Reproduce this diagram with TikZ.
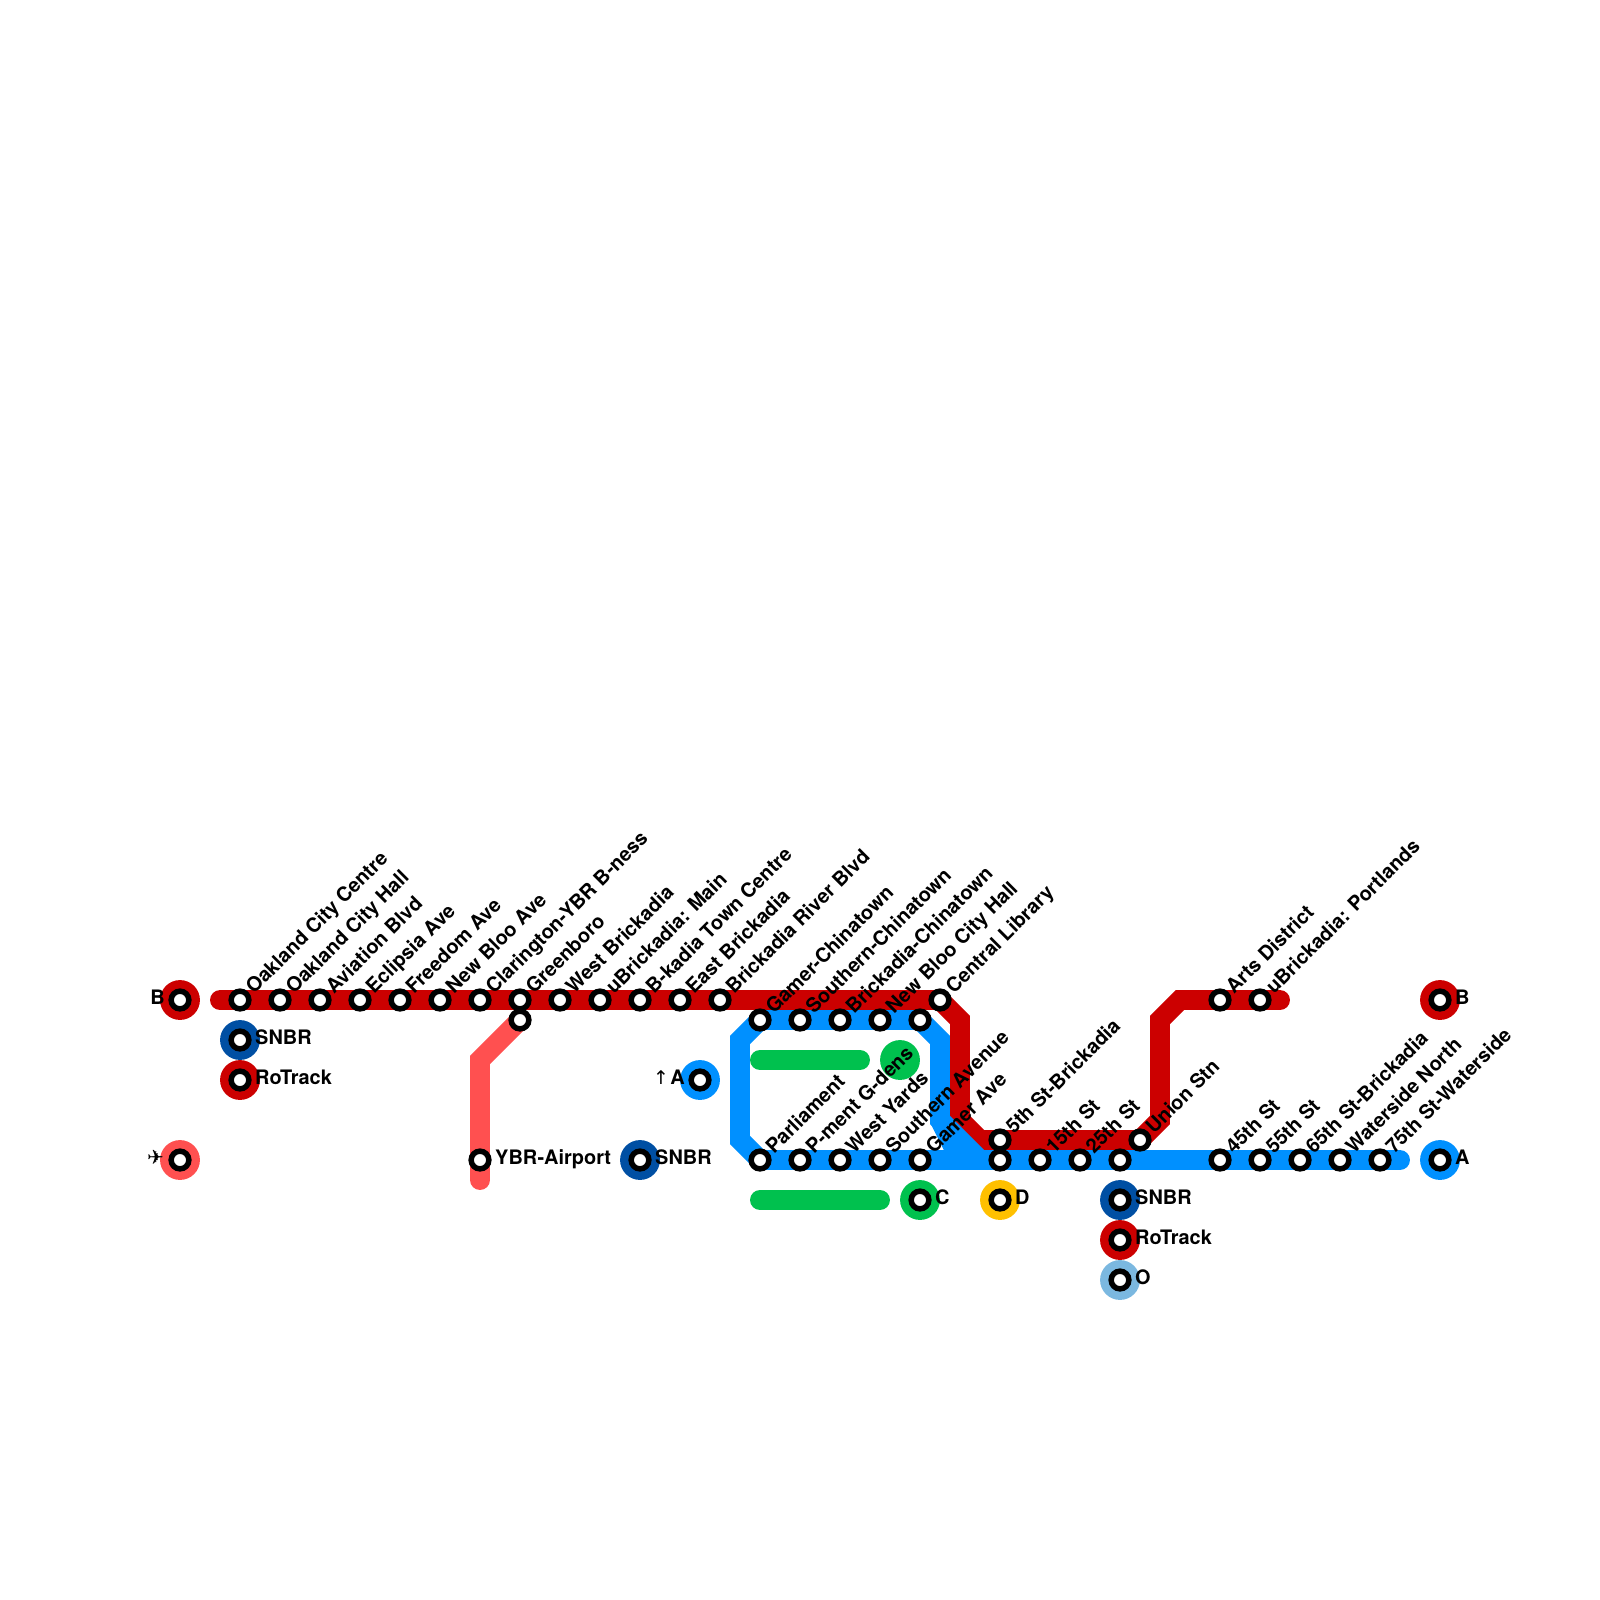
\documentclass[tikz,border=0pt]{standalone}
\usepackage{fontspec}
\setmainfont{TeX Gyre Heros}
\newfontfamily\symfont{DejaVu Sans}
\usetikzlibrary{backgrounds}
\definecolor{rored}{HTML}{CC0000}
\definecolor{airred}{HTML}{FF5050}
\definecolor{ablue}{HTML}{0090FF}
\definecolor{cgreen}{HTML}{00C14E}
\definecolor{snblue}{HTML}{004FA3}
\definecolor{dyellow}{HTML}{FFC000}
\definecolor{olblue}{HTML}{7BB8E0}
\tikzset{
  stn/.style={circle,draw=black,fill=white,line width=3.9pt,minimum size=12.6pt,inner sep=0pt,outer sep=0pt},
  term/.style={circle,fill=#1,minimum size=28.35pt,inner sep=0pt,outer sep=0pt},
  lbl/.style={font=\bfseries\fontsize{14.17pt}{16pt}\selectfont,text=black,inner sep=0pt},
  up/.style={lbl,rotate=45,anchor=base west},
  route/.style={line width=14.17pt,line cap=round,line join=miter,draw=#1}
}
\begin{document}
\begin{tikzpicture}[x=0.025cm,y=-0.025cm]
\useasboundingbox (0,0) rectangle (1600,1600);
% terminals
\foreach \name/\x/\y/\col in {tB/180/1000/rored,tAir/180/1160/airred,tSa/240/1040/snblue,tRa/240/1080/rored,tSb/640/1160/snblue,tAa/700/1080/ablue,tG/900/1060/cgreen,tC/920/1200/cgreen,tD/1000/1200/dyellow,tSc/1120/1200/snblue,tRb/1120/1240/rored,tO/1120/1280/olblue,tBb/1440/1000/rored,tAb/1440/1160/ablue}
  \node[term=\col] (\name) at (\x,\y) {};
% stations on the top row
\foreach \name/\x in {oakc/240,oakh/280,avia/320,ecli/360,free/400,nblo/440,clar/480,gree/520,wbri/560,ubma/600,btow/640,ebri/680,briv/720,cenl/940,arts/1220,ubpo/1260}
  \node[stn] (\name) at (\x,1000) {};
\foreach \name/\x in {gchi/760,schi/800,bchi/840,nbch/880,eupp/920,gbel/520}
  \node[stn] (\name) at (\x,1020) {};
% stations on the bottom row
\foreach \name/\x in {parl/760,pmen/800,wyar/840,soav/880,gaav/920,five/1000,fift/1040,twen/1080,thir/1120,fort/1220,ffif/1260,sixt/1300,watn/1340,seve/1380}
  \node[stn] (\name) at (\x,1160) {};
\node[stn] (fivu) at (1000,1140) {};
\node[stn] (unio) at (1140,1140) {};
\node[stn] (yair) at (480,1160) {};
% stations inside the terminals
\foreach \name in {tB,tAir,tSa,tRa,tSb,tAa,tC,tD,tSc,tRb,tO,tBb,tAb}
  \node[stn] (c\name) at (\name) {};
% bends and free ends
\coordinate (rw) at (220,1000);
\coordinate (re) at (1280,1000);
\coordinate (r1) at (960,1020);
\coordinate (r2) at (960,1120);
\coordinate (r3) at (980,1140);
\coordinate (r4) at (1160,1120);
\coordinate (r5) at (1160,1020);
\coordinate (r6) at (1180,1000);
\coordinate (a1) at (480,1060);
\coordinate (a2) at (480,1180);
\coordinate (b1) at (740,1040);
\coordinate (b2) at (740,1140);
\coordinate (b3) at (940,1040);
\coordinate (b4) at (940,1120);
\coordinate (b5) at (980,1160);
\coordinate (b6) at (1400,1160);
\coordinate (b7) at (960,1160);
\coordinate (g1) at (760,1060);
\coordinate (g2) at (860,1060);
\coordinate (g3) at (760,1200);
\coordinate (g4) at (880,1200);
\begin{pgfonlayer}{background}
\draw[route=cgreen] (g1) -- (g2);
\draw[route=cgreen] (g3) -- (g4);
\draw[route=airred] (gbel.center) -- (a1) -- (a2);
\draw[route=rored] (rw) -- (cenl.center) -- (r1) -- (r2) -- (r3) -- (unio.center) -- (r4) -- (r5) -- (r6) -- (re);
\draw[route=ablue] (b6) -- (parl.center) -- (b2) -- (b1) -- (gchi.center) -- (eupp.center) -- (b3) -- (b4) -- (b5);
\draw[route=ablue] (b4) -- (b7);
\end{pgfonlayer}
% slanted names
\foreach \name/\txt in {oakc/Oakland City Centre,oakh/Oakland City Hall,avia/Aviation Blvd,ecli/Eclipsia Ave,free/Freedom Ave,nblo/New Bloo Ave,clar/Clarington-YBR B-ness,gree/Greenboro,wbri/West Brickadia,ubma/uBrickadia: Main,btow/B-kadia Town Centre,ebri/East Brickadia,briv/Brickadia River Blvd,gchi/Gamer-Chinatown,schi/Southern-Chinatown,bchi/Brickadia-Chinatown,nbch/New Bloo City Hall,cenl/Central Library,arts/Arts District,ubpo/uBrickadia: Portlands,parl/Parliament,pmen/P-ment G-dens,wyar/West Yards,soav/Southern Avenue,gaav/Gamer Ave,fivu/5th St-Brickadia,fift/15th St,twen/25th St,unio/Union Stn,fort/45th St,ffif/55th St,sixt/65th St-Brickadia,watn/Waterside North,seve/75th St-Waterside}
  \node[up] (l\name) at ([xshift=14*0.7087pt,yshift=5*0.7087pt]\name.center) {\txt};
% flat names
\foreach \name/\txt in {tSa/SNBR,tRa/RoTrack,tSb/SNBR,tC/C,tD/D,tSc/SNBR,tRb/RoTrack,tO/O,tBb/B,tAb/A,yair/YBR-Airport}
  \node[lbl,anchor=base west] (l\name) at ([xshift=15*0.7087pt,yshift=-4.5*0.7087pt]\name.center) {\txt};
\node[lbl,anchor=base east] (ltB) at ([xshift=-15*0.7087pt,yshift=-4.5*0.7087pt]tB.center) {B};
\node[lbl,anchor=base east] (ltAa) at ([xshift=-15*0.7087pt,yshift=-4.5*0.7087pt]tAa.center) {{\symfont\mdseries\fontsize{13.4pt}{16pt}\selectfont ↑}\kern1pt A};
\node[lbl,anchor=base east] (ltAir) at ([xshift=-16*0.7087pt,yshift=-4.5*0.7087pt]tAir.center) {\symfont ✈};
\end{tikzpicture}
\end{document}
